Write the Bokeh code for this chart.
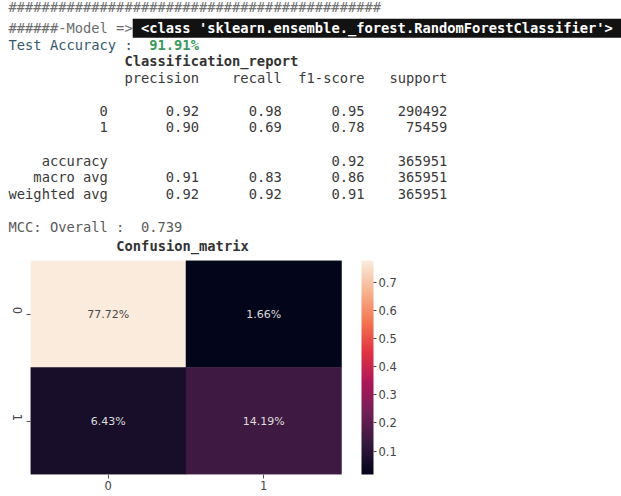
import math
from bokeh.plotting import figure
from bokeh.models import (Range1d, ColumnDataSource, LinearColorMapper, ColorBar,
                          FixedTicker, PrintfTickFormatter)
from bokeh.core.properties import value
from bokeh.embed import file_html
from bokeh.resources import INLINE

# ---------------- data ----------------
hash_count = 45
model_prefix = "######-Model =>"
model_name = "<class 'sklearn.ensemble._forest.RandomForestClassifier'>"
accuracy_label = "Test Accuracy :"
test_accuracy = "91.91%"
report_title = "Classification_report"
report_headers = ["precision", "recall", "f1-score", "support"]
report_labels = ["0", "1", "accuracy", "macro avg", "weighted avg"]
precision = [0.92, 0.90, None, 0.91, 0.92]
recall = [0.98, 0.69, None, 0.83, 0.92]
f1_score = [0.95, 0.78, 0.92, 0.86, 0.91]
support = [290492, 75459, 365951, 365951, 365951]
mcc_label = "MCC: Overall :"
mcc_overall = 0.739
cm_title = "Confusion_matrix"
class_labels = ["0", "1"]
cm_row0 = [0.7772, 0.0166]
cm_row1 = [0.0643, 0.1419]
cbar_ticks = [0.1, 0.2, 0.3, 0.4, 0.5, 0.6, 0.7]

# ---------------- styles / layout ----------------
MONO = value("DejaVu Sans Mono")
SANS = value("DejaVu Sans")
FS = "13.75px"
CW = 8.28          # monospace character advance in px
X0 = 8             # left text margin in px
W, H = 621, 496
F_LEFT, F_TOP, F_BOTTOM = 30, 260, 474
CELL_PX = 155.5
GAP_PX = 20
F_RIGHT = F_LEFT + 2 * CELL_PX + GAP_PX
LINE_H = 16.55
HDR_Y = 77.3

def ly(k):
    return HDR_Y + k * LINE_H

# rocket-like palette (anchor colours, interpolated)
anchors = ["#03051a", "#35193e", "#701f57", "#ad1759", "#e13342", "#f37651", "#f6b48f", "#faebdd"]
def _rgb(hx):
    return tuple(int(hx[i:i + 2], 16) for i in (1, 3, 5))
palette = []
na = len(anchors) - 1
for i in range(256):
    f = i / 255 * na
    k = min(int(f), na - 1)
    tt = f - k
    a, b = _rgb(anchors[k]), _rgb(anchors[k + 1])
    palette.append("#%02x%02x%02x" % tuple(round(a[c] + (b[c] - a[c]) * tt) for c in range(3)))

# ---------------- heatmap figure ----------------
cm = [cm_row0, cm_row1]
n = len(class_labels)
flat = [v for row in cm for v in row]
vmin, vmax = min(flat), max(flat)
x_end = n + GAP_PX / CELL_PX

xs, ys, vs, labels, tcols = [], [], [], [], []
for i, row in enumerate(cm):
    for j, v in enumerate(row):
        xs.append(j + 0.5)
        ys.append(i + 0.5)
        vs.append(v)
        labels.append("%.2f%%" % (v * 100))
        tcols.append("#4a4a4a" if (v - vmin) / (vmax - vmin) > 0.6 else "#dcdcdc")
src = ColumnDataSource(dict(x=xs, y=ys, v=vs, label=labels, tc=tcols))

mapper = LinearColorMapper(palette=palette, low=vmin, high=vmax)

p = figure(width=W, height=H,
           x_range=Range1d(0, x_end), y_range=Range1d(n, 0),
           output_backend="svg", toolbar_location=None, outline_line_color=None,
           min_border=0, min_border_left=F_LEFT, min_border_top=F_TOP,
           min_border_bottom=H - F_BOTTOM, min_border_right=int(W - F_RIGHT))
p.xgrid.visible = False
p.ygrid.visible = False
# pixel-like helper ranges for the printed text above the heatmap
p.extra_x_ranges = {"px": Range1d(F_LEFT, F_RIGHT)}
p.extra_y_ranges = {"px": Range1d(F_BOTTOM, F_TOP)}

p.rect(x="x", y="y", width=1, height=1, source=src,
       fill_color={"field": "v", "transform": mapper},
       line_color={"field": "v", "transform": mapper}, line_width=0.5)
p.text(x="x", y="y", text="label", source=src, text_color="tc",
       text_font=SANS, text_font_size="11px", text_align="center",
       text_baseline="middle")

tick_pos = [k + 0.5 for k in range(n)]
overrides = {tp: lab for tp, lab in zip(tick_pos, class_labels)}
for ax in (p.xaxis[0], p.yaxis[0]):
    ax.ticker = FixedTicker(ticks=tick_pos)
    ax.major_label_overrides = overrides
    ax.axis_line_color = None
    ax.major_tick_line_color = "#555555"
    ax.major_tick_in = 0
    ax.major_tick_out = 4
    ax.minor_tick_line_color = None
    ax.major_label_text_font = "DejaVu Sans"
    ax.major_label_text_font_size = "11.5px"
    ax.major_label_text_color = "#444444"
    ax.major_label_standoff = 2
p.yaxis[0].major_label_orientation = -math.pi / 2
p.yaxis[0].major_label_standoff = 9

cb = ColorBar(color_mapper=mapper, ticker=FixedTicker(ticks=cbar_ticks),
              formatter=PrintfTickFormatter(format="%.1f"),
              width=12, margin=0, padding=0,
              major_tick_in=0, major_tick_out=3, major_tick_line_color="#444444",
              minor_tick_line_color=None, bar_line_color=None,
              major_label_text_font="DejaVu Sans", major_label_text_font_size="11.5px",
              major_label_text_color="#444444", label_standoff=2,
              background_fill_color=None, border_line_color=None)
p.add_layout(cb, "right")

# ---------------- printed text ----------------
def put(col, y, txt, color="#3a3a3a", bold=False, align="left", x=None):
    p.text(x=[X0 + col * CW if x is None else x], y=[y], text=[txt],
           text_font=MONO, text_font_size=FS,
           text_color=color, text_align=align, text_baseline="middle",
           text_font_style="bold" if bold else "normal",
           x_range_name="px", y_range_name="px", level="overlay")

put(0, 6, "#" * hash_count, color="#707070")
put(0, ly(-3), model_prefix, color="#6e6e6e")
p.quad(left=[X0 + 15 * CW], right=[W], top=[ly(-3) - 9.5], bottom=[ly(-3) + 9.5],
       fill_color="#121212", line_color=None,
       x_range_name="px", y_range_name="px", level="overlay")
put(16, ly(-3), model_name, color="#ffffff", bold=True)
put(0, ly(-2), accuracy_label, color="#35586b")
put(17, ly(-2), test_accuracy, color="#3c9a5c", bold=True)
put(14, ly(-1), report_title, color="#333333", bold=True)

col_ends = [12, 23, 33, 43, 53]
for j, hname in enumerate(report_headers):
    put(col_ends[j + 1], ly(0), hname, align="right")

row_lines = [2, 3, 5, 6, 7]
for i, lab in enumerate(report_labels):
    y = ly(row_lines[i])
    put(col_ends[0], y, lab, align="right")
    vals = [precision[i], recall[i], f1_score[i]]
    for j, v in enumerate(vals):
        if v is not None:
            put(col_ends[j + 1], y, "%.2f" % v, align="right")
    put(col_ends[4], y, str(support[i]), align="right")

put(0, ly(9), mcc_label, color="#5a5a5a")
put(16, ly(9), "%.3f" % mcc_overall, color="#5a5a5a")
put(0, 245, cm_title, color="#333333", bold=True, align="center", x=182)

open("out.html", "w").write(file_html(p, INLINE))
